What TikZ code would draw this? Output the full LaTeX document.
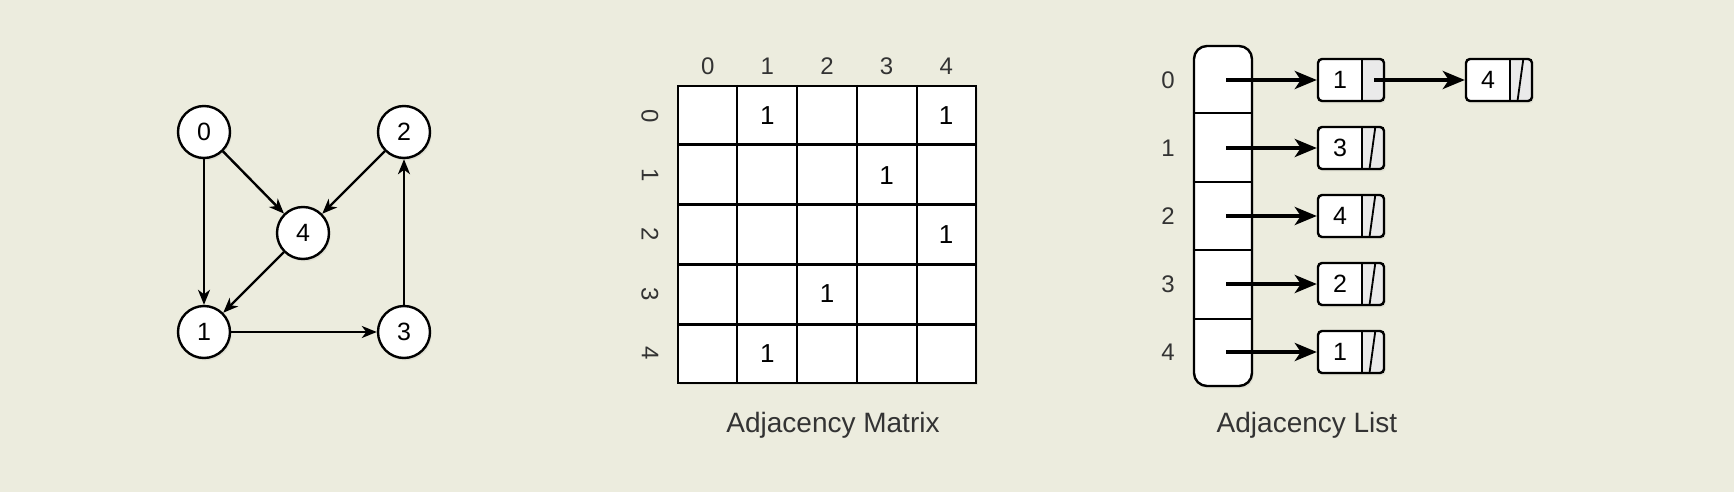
\documentclass[tikz,border=0pt]{standalone}
\usepackage{fontspec}
\setmainfont{Liberation Sans}
\usetikzlibrary{arrows.meta, shadows, calc}
\definecolor{bgcol}{HTML}{ECECDE}
\definecolor{labelgray}{HTML}{333333}
\definecolor{ptrgray}{HTML}{EAEAEA}

\begin{document}
\begin{tikzpicture}[x=0.5pt, y=-0.5pt]
    % Styles
    \tikzstyle{softshadow} = [drop shadow={shadow xshift=0.8pt, shadow yshift=-1.2pt, opacity=0.12}]
    \tikzstyle{vertex} = [circle, draw=black, line width=1.2pt, fill=white, minimum size=26pt, inner sep=0pt, font=\fontsize{12.5}{15}\selectfont, softshadow]
    \tikzstyle{garrow} = [-{Stealth[length=7.5pt, width=6pt, inset=2.2pt]}, line width=1.2pt]
    \tikzstyle{larrow} = [-{Stealth[length=11pt, width=9pt, inset=3pt]}, line width=1.8pt]
    \tikzstyle{matbox} = [rectangle, draw=black, line width=1.2pt, fill=white, minimum width=149pt, minimum height=148.5pt, inner sep=0pt, softshadow]
    \tikzstyle{entry} = [font=\fontsize{13}{15}\selectfont]
    \tikzstyle{head} = [text=labelgray, font=\fontsize{12}{14}\selectfont]
    \tikzstyle{title} = [text=labelgray, font=\fontsize{14}{17}\selectfont]
    \tikzstyle{arraybox} = [rectangle, draw=black, line width=1.2pt, fill=white, rounded corners=6.5pt, minimum width=29pt, minimum height=170pt, inner sep=0pt, softshadow]
    \tikzstyle{listcell} = [rectangle, draw=black, line width=1.2pt, fill=white, rounded corners=2pt, minimum width=33pt, minimum height=21pt, inner sep=0pt, font=\fontsize{12.5}{15}\selectfont, softshadow,
        path picture={\fill[ptrgray] ([xshift=-11pt]path picture bounding box.north east) rectangle (path picture bounding box.south east);
            \draw[line width=1.2pt] ([xshift=-11pt]path picture bounding box.north east) -- ([xshift=-11pt]path picture bounding box.south east);}]
    \tikzstyle{nullslash} = [line width=0.9pt]

    % Background
    \fill[bgcol] (0,0) rectangle (1734,492);
    \useasboundingbox (0,0) rectangle (1734,492);

    % Graph
    \node[vertex] (v0) at (204,132) {0};
    \node[vertex] (v2) at (404,132) {2};
    \node[vertex] (v4) at (303,233) {4};
    \node[vertex] (v1) at (204,332) {1};
    \node[vertex] (v3) at (404,332) {3};

    \draw[garrow] (v0) -- (v1);
    \draw[garrow] (v0) -- (v4);
    \draw[garrow] (v2) -- (v4);
    \draw[garrow] (v4) -- (v1);
    \draw[garrow] (v1) -- (v3);
    \draw[garrow] (v3) -- (v2);

    % Adjacency matrix
    \node[matbox] (adj) at (827,234.5) {};
    \foreach \f in {0.2,0.4,0.6,0.8} {
        \draw[line width=1.2pt] ($(adj.north west)!\f!(adj.north east)$) -- ($(adj.south west)!\f!(adj.south east)$);
        \draw[line width=1.2pt] ($(adj.north west)!\f!(adj.south west)$) -- ($(adj.north east)!\f!(adj.south east)$);
    }

    \node[head] (c0) at (707.8,66) {0};
    \node[head] (c1) at (767.4,66) {1};
    \node[head] (c2) at (827,66) {2};
    \node[head] (c3) at (886.6,66) {3};
    \node[head] (c4) at (946.2,66) {4};

    \node[head, rotate=-90] (r0) at (650,115.7) {0};
    \node[head, rotate=-90] (r1) at (650,175.1) {1};
    \node[head, rotate=-90] (r2) at (650,234.5) {2};
    \node[head, rotate=-90] (r3) at (650,293.9) {3};
    \node[head, rotate=-90] (r4) at (650,353.3) {4};

    \node[entry] (m01) at (767.4,115.7) {1};
    \node[entry] (m04) at (946.2,115.7) {1};
    \node[entry] (m13) at (886.6,175.1) {1};
    \node[entry] (m24) at (946.2,234.5) {1};
    \node[entry] (m32) at (827,293.9) {1};
    \node[entry] (m41) at (767.4,353.3) {1};

    \node[title] (mattitle) at (833,425) {Adjacency Matrix};

    % Adjacency list
    \node[arraybox] (arr) at (1223,216) {};
    \foreach \f in {0.2,0.4,0.6,0.8} {
        \draw[line width=1.2pt] ($(arr.north west)!\f!(arr.south west)$) -- ($(arr.north east)!\f!(arr.south east)$);
    }

    \node[head] (i0) at (1168,80) {0};
    \node[head] (i1) at (1168,148) {1};
    \node[head] (i2) at (1168,216) {2};
    \node[head] (i3) at (1168,284) {3};
    \node[head] (i4) at (1168,352) {4};

    \coordinate (a0) at (1226,80);
    \coordinate (a1) at (1226,148);
    \coordinate (a2) at (1226,216);
    \coordinate (a3) at (1226,284);
    \coordinate (a4) at (1226,352);

    \node[listcell] (L0) at (1351,80) {\makebox[22pt]{1}\rule{11pt}{0pt}};
    \node[listcell] (L0b) at (1499,80) {\makebox[22pt]{4}\rule{11pt}{0pt}};
    \node[listcell] (L1) at (1351,148) {\makebox[22pt]{3}\rule{11pt}{0pt}};
    \node[listcell] (L2) at (1351,216) {\makebox[22pt]{4}\rule{11pt}{0pt}};
    \node[listcell] (L3) at (1351,284) {\makebox[22pt]{2}\rule{11pt}{0pt}};
    \node[listcell] (L4) at (1351,352) {\makebox[22pt]{1}\rule{11pt}{0pt}};

    \coordinate (p0) at ($(L0.east)+(-5.5pt,0)$);

    % Null pointers
    \foreach \n in {L0b,L1,L2,L3,L4} {
        \draw[nullslash] ([xshift=-7.8pt, yshift=1pt]\n.south east) -- ([xshift=-5pt, yshift=-1pt]\n.north east);
    }

    % Arrows
    \draw[larrow] (a0) -- (L0);
    \draw[larrow] (p0) -- (L0b);
    \draw[larrow] (a1) -- (L1);
    \draw[larrow] (a2) -- (L2);
    \draw[larrow] (a3) -- (L3);
    \draw[larrow] (a4) -- (L4);

    \node[title] (listtitle) at (1307,425) {Adjacency List};
\end{tikzpicture}
\end{document}
